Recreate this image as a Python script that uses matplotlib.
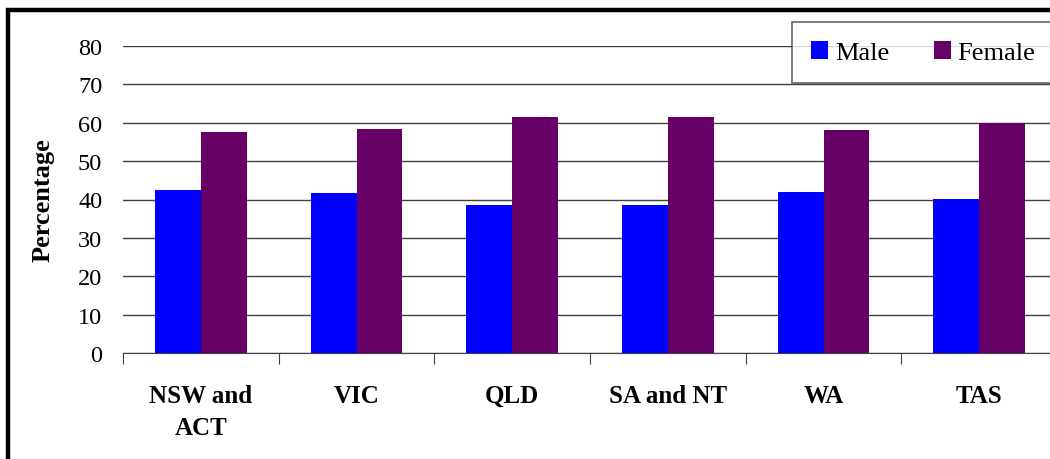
import numpy as np
import matplotlib.pyplot as plt
from matplotlib.patches import Rectangle

regions = ["NSW and\nACT", "VIC", "QLD", "SA and NT", "WA", "TAS"]
male = [42.4, 41.7, 38.5, 38.5, 42.0, 40.2]
female = [57.6, 58.4, 61.6, 61.6, 58.0, 59.9]
yticks = [0, 10, 20, 30, 40, 50, 60, 70, 80]

plt.rcParams["font.family"] = ["Liberation Serif", "DejaVu Serif"]

fig = plt.figure(figsize=(10.5, 4.6), dpi=100)
W, H = 1050, 460
# axes box in pixels: left 123, bottom 354 (from top), top 47, right past the edge
ax = fig.add_axes([123/W, (H-354)/H, (1057-123)/W, (354-47)/H])

x = np.arange(len(regions))
bw = 0.295
ax.bar(x - bw/2, male, bw, color="#0000ff", label="Male", zorder=3)
ax.bar(x + bw/2, female, bw, color="#660066", label="Female", zorder=3)

ax.set_xlim(-0.5, len(regions) - 0.5)
ax.set_ylim(0, 80)
ax.set_yticks(yticks)
ax.yaxis.grid(True, color="#404040", lw=1.0, zorder=0)
ax.tick_params(axis="y", length=0, pad=15, labelsize=17.5)

# category ticks sit on the boundaries between groups
ax.set_xticks(np.arange(len(regions) + 1) - 0.5, minor=False)
ax.set_xticklabels([])
ax.tick_params(axis="x", which="major", length=8, direction="out", color="#404040")
ax.set_xticks(x, minor=True)
ax.set_xticklabels(regions, minor=True, fontweight="bold", fontsize=18,
                   linespacing=1.5, va="top")
ax.tick_params(axis="x", which="minor", length=0, pad=22)

for s in ["left", "top", "right"]:
    ax.spines[s].set_visible(False)
ax.spines["bottom"].set_color("#404040")

ax.set_ylabel("Percentage", fontweight="bold", fontsize=19, labelpad=17)

leg = fig.legend(loc="upper left", bbox_to_anchor=(792/W, 1 - 23/H), ncol=2,
                 fontsize=19, frameon=True, fancybox=False, handlelength=0.65,
                 handleheight=0.65, handletextpad=0.25, columnspacing=1.7,
                 borderpad=0.72, borderaxespad=0)
leg.get_frame().set_edgecolor("#404040")
leg.get_frame().set_linewidth(1.2)

# thick outer frame, running off the right and bottom edges
fig.patches.append(Rectangle((8/W, -0.1), 1.2, 1 - 11/H + 0.1, transform=fig.transFigure,
                             fill=False, edgecolor="black", lw=3.2, zorder=10))

plt.savefig("out.png", dpi=100)
